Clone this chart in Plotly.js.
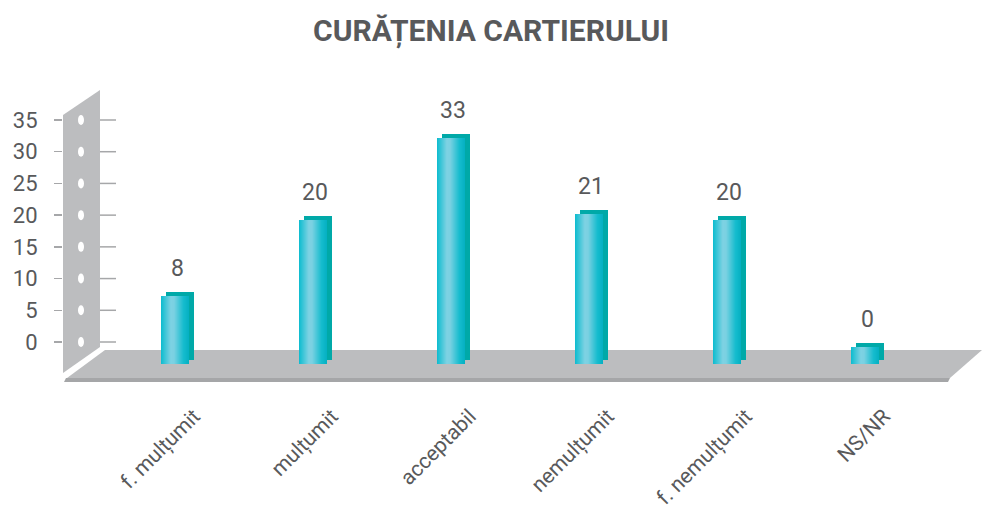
<!DOCTYPE html>
<html>
<head>
<meta charset="utf-8">
<script src="https://cdn.plot.ly/plotly-3.0.1.min.js"></script>
<style>
html,body{margin:0;padding:0;background:#fff;}
#chart{width:982px;height:515px;}
</style>
</head>
<body>
<div id="chart"></div>
<script>
// ---- data ----
const categories = ['f. mulțumit', 'mulțumit', 'acceptabil', 'nemulțumit', 'f. nemulțumit', 'NS/NR'];
const values = [8, 20, 33, 21, 20, 0];
const yTickVals = [0, 5, 10, 15, 20, 25, 30, 35];
const titleText = 'CURĂȚENIA CARTIERULUI';

// ---- geometry / style ----
const W = 982, H = 515;
const M = {l: 63, r: 0, t: 101, b: 129};
const plotW = W - M.l - M.r, plotH = H - M.t - M.b;
const px = x => (x - M.l) / plotW;       // pixel -> paper x
const py = y => (H - M.b - y) / plotH;    // pixel -> paper y
const catStep = 138;                      // px per category
const xRange = [(M.l - 175) / catStep, (W - M.r - 175) / catStep];
const k = 222 / 35;                       // px per unit
const yRange = [35 - (H - M.b - 120) / k, 35 + (120 - M.t) / k];

const faceW = 28 / catStep;
const frontBase = -22 / k;
const depthX = 5 / catStep, depthY = 4 / k;
const topDrop = 0.8;
const heights = values.map(v => v - topDrop - frontBase);
const idx = categories.map((c, i) => i);

// colour gradient helper (styling only)
const stops = [[0, [11,188,207]], [0.35, [126,210,227]], [0.47, [122,209,226]], [0.8, [22,188,206]], [1, [4,176,194]]];
function gradColor(t) {
  for (let i = 0; i < stops.length - 1; i++) {
    const [a, ca] = stops[i], [b, cb] = stops[i + 1];
    if (t <= b) {
      const f = (t - a) / (b - a);
      const c = ca.map((v, j) => Math.round(v + (cb[j] - v) * f));
      return `rgb(${c[0]},${c[1]},${c[2]})`;
    }
  }
  const c = stops[stops.length - 1][1];
  return `rgb(${c[0]},${c[1]},${c[2]})`;
}

const traces = [];
// back face
traces.push({
  type: 'bar', x: idx, y: heights, base: values.map(() => frontBase + depthY),
  offset: -faceW / 2 + depthX, width: faceW,
  marker: {color: '#00a9a8', line: {width: 0}}, hoverinfo: 'skip'
});
// front face: gradient built from 1px strips
const nStrips = 28;
const sw = faceW / nStrips;
for (let i = 0; i < nStrips; i++) {
  traces.push({
    type: 'bar', x: idx, y: heights, base: values.map(() => frontBase),
    offset: -faceW / 2 + i * sw, width: sw * (i < nStrips - 1 ? 1.5 : 1),
    marker: {color: gradColor((i + 0.5) / nStrips), line: {width: 0}}, hoverinfo: 'skip'
  });
}

const shapes = [];
const gray = '#bcbdbf';
// floor
shapes.push({type: 'path', xref: 'paper', yref: 'paper', layer: 'below', line: {width: 0}, fillcolor: '#a5a6a8',
  path: `M${px(66)},${py(378)} L${px(950)},${py(378)} L${px(948)},${py(382)} L${px(64)},${py(382)} Z`});
shapes.push({type: 'path', xref: 'paper', yref: 'paper', layer: 'below', line: {width: 0}, fillcolor: gray,
  path: `M${px(105)},${py(350)} L${px(982)},${py(350)} L${px(950)},${py(378)} L${px(67)},${py(378)} Z`});
// wall
shapes.push({type: 'path', xref: 'paper', yref: 'paper', layer: 'below', line: {width: 0}, fillcolor: gray,
  path: `M${px(63)},${py(115)} L${px(100)},${py(90)} L${px(100)},${py(347)} L${px(63)},${py(373)} Z`});
// right tick segments and dots on wall
yTickVals.forEach(v => {
  shapes.push({type: 'line', xref: 'paper', yref: 'y', layer: 'below', x0: px(100), x1: px(116), y0: v, y1: v,
    line: {color: '#a6a7a9', width: 1.5}});
  shapes.push({type: 'circle', xref: 'paper', yref: 'y', layer: 'below', xsizemode: 'pixel', ysizemode: 'pixel',
    xanchor: px(81), yanchor: v, x0: -3, x1: 3, y0: -5, y1: 5, fillcolor: '#ffffff', line: {width: 0}});
});

const annotations = values.map((v, i) => ({
  x: i, y: v - topDrop + depthY, xref: 'x', yref: 'y', text: String(v), showarrow: false,
  yanchor: 'bottom', yshift: 8, xshift: 2,
  font: {family: 'Roboto, sans-serif', size: 23, color: '#58595b'}
}));

const layout = {
  width: W, height: H, margin: M,
  paper_bgcolor: '#ffffff', plot_bgcolor: 'rgba(0,0,0,0)',
  showlegend: false, barmode: 'overlay', bargap: 0,
  title: {text: '<b>' + titleText + '</b>', x: 0.5, xanchor: 'center', y: 0.94, yanchor: 'middle',
    font: {family: 'Roboto, sans-serif', size: 30, color: '#58595b'}},
  xaxis: {range: xRange, tickvals: idx, ticktext: categories, tickangle: -45,
    showgrid: false, zeroline: false, showline: false, ticks: '',
    ticklabelstandoff: 13, ticklabelshift: 19,
    tickfont: {family: 'Roboto, sans-serif', size: 21, color: '#58595b'}},
  yaxis: {range: yRange, tickvals: yTickVals, showgrid: false, zeroline: false, showline: false,
    ticks: 'outside', ticklen: 8, tickwidth: 1.5, tickcolor: '#a6a7a9', ticklabelstandoff: 12,
    tickfont: {family: 'Roboto, sans-serif', size: 22, color: '#58595b'}},
  shapes: shapes, annotations: annotations
};

Plotly.newPlot('chart', traces, layout, {displayModeBar: false, staticPlot: true});
</script>
</body>
</html>
